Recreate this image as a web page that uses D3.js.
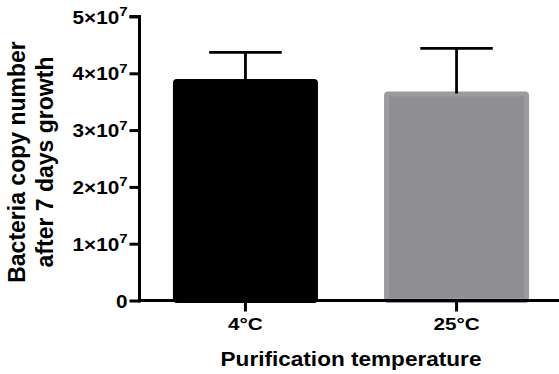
<!DOCTYPE html>
<html>
<head>
<meta charset="utf-8">
<script src="https://cdn.jsdelivr.net/npm/d3@7"></script>
<style>
  body { margin: 0; background: #fff; }
  text { font-family: "Liberation Sans", Arial, sans-serif; font-weight: bold; fill: #000; }
</style>
</head>
<body>
<div id="chart"></div>
<script>
const categories = ['4°C', '25°C'];
const means = [3.9e7, 3.68e7];
const errors = [0.47e7, 0.76e7];
const yTicks = [0, 1e7, 2e7, 3e7, 4e7, 5e7];

const width = 559, height = 374;
const axisX = 139.5;

const svg = d3.select('#chart')
  .append('svg')
    .attr('width', width)
    .attr('height', height);

const x = d3.scaleBand()
  .domain(categories)
  .range([140, 562])
  .paddingInner(0.313)
  .paddingOuter(0.156);

const y = d3.scaleLinear()
  .domain([0, 5e7])
  .range([300.5, 16.5]);

const fills = ['#000000', '#8f8e93'];
const strokes = ['#000000', '#9c9ba0'];

const bars = svg.append('g');
categories.forEach((c, i) => {
  bars.append('rect')
    .attr('x', x(c) + 2.5)
    .attr('y', y(means[i]) + 2.5)
    .attr('width', x.bandwidth() - 5)
    .attr('height', y(0) - y(means[i]) - 2.5)
    .attr('rx', 1.5)
    .attr('fill', fills[i])
    .attr('stroke', strokes[i])
    .attr('stroke-width', 5);
});

// error bars (upper only)
const err = svg.append('g').attr('stroke', '#000').attr('stroke-width', 2.8);
categories.forEach((c, i) => {
  const cx = x(c) + x.bandwidth() / 2;
  err.append('line')
    .attr('x1', cx).attr('x2', cx)
    .attr('y1', y(means[i]) + 2).attr('y2', y(means[i] + errors[i]));
  err.append('line')
    .attr('x1', cx - x.bandwidth() / 4).attr('x2', cx + x.bandwidth() / 4)
    .attr('y1', y(means[i] + errors[i])).attr('y2', y(means[i] + errors[i]));
});

// y axis
const yAxis = svg.append('g')
  .attr('transform', `translate(${axisX},0)`)
  .call(d3.axisLeft(y).tickValues(yTicks).tickSize(10).tickFormat(''));
yAxis.selectAll('path, line').attr('stroke', '#000').attr('stroke-width', 3);
yAxis.select('.domain').attr('d', `M-10,${y(5e7)}H0V${y(0) + 2}`);

yAxis.selectAll('.tick').each(function(d) {
  const t = d3.select(this).append('text')
    .attr('transform', 'translate(-12,0) scale(1.15,1)')
    .attr('y', 6.5)
    .attr('text-anchor', 'end')
    .style('font-size', '18px');
  if (d === 0) {
    t.text('0');
  } else {
    t.append('tspan').text((d / 1e7) + '×10');
    t.append('tspan').text('7').attr('dy', -7.5).style('font-size', '13px');
  }
});

// x axis
const xAxis = svg.append('g')
  .attr('transform', `translate(0,${y(0)})`)
  .call(d3.axisBottom(x).tickSize(11).tickFormat(''));
xAxis.selectAll('path, line').attr('stroke', '#000').attr('stroke-width', 3);
xAxis.select('.domain').attr('d', `M${axisX - 1.5},0H${width}`);
xAxis.selectAll('.tick').append('text')
  .attr('transform', 'translate(0,29.5) scale(1.22,1)')
  .attr('text-anchor', 'middle')
  .style('font-size', '17px')
  .text((d) => d);

// axis titles
svg.append('text')
  .attr('transform', 'translate(351,366) scale(1.075,1)')
  .attr('text-anchor', 'middle')
  .style('font-size', '21px')
  .text('Purification temperature');

const yTitle = svg.append('text')
  .attr('transform', 'translate(0,162) rotate(-90)')
  .attr('text-anchor', 'middle')
  .style('font-size', '23px');
yTitle.append('tspan').attr('x', 0).attr('y', 25).text('Bacteria copy number');
yTitle.append('tspan').attr('x', 0).attr('y', 53).text('after 7 days growth');
</script>
</body>
</html>
